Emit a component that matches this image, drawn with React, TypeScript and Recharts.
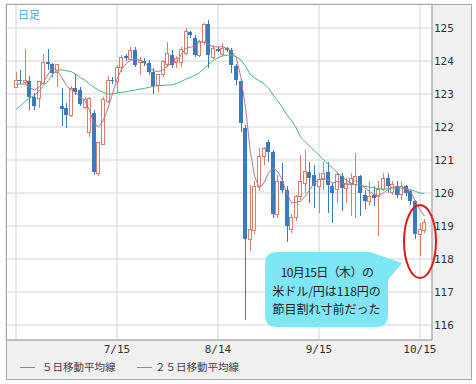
import React from 'react';
import { ComposedChart, Bar, Line, XAxis, YAxis, CartesianGrid } from 'recharts';

// USD/JPY daily candles, 2015-06-15 .. 2015-10-16 (index = trading day)
const opens = [
  123.21, 123.42, 123.36, 123.4, 122.92, 122.85, 123.33, 123.97, 123.91, 123.64,
  122.64, 122.58, 122.36, 123.18, 123.12, 122.6, 121.82, 122.42, 120.6, 121.48,
  122.76, 123.42, 123.39, 123.79, 124.15, 124.06, 124.33, 123.94, 124.0, 123.94,
  123.67, 123.27, 123.58, 123.88, 124.18, 123.94, 123.94, 124.24, 124.88, 124.7,
  124.18, 124.55, 125.12, 124.12, 124.36, 124.2, 124.38, 124.33, 123.85, 123.39,
  121.96, 118.6, 118.85, 120.2, 121.1, 121.53, 121.25, 119.35, 120.35, 120.1,
  118.9, 119.25, 119.9, 120.3, 120.65, 120.55, 120.2, 120.4, 120.65, 120.2,
  120.1, 120.5, 120.15, 120.25, 120.25, 120.5, 119.95, 119.75, 119.95, 119.9,
  120.1, 120.45, 120.0, 120.2, 119.95, 120.2, 120.05, 119.75, 118.75, 118.85,
];
const highs = [
  123.67, 123.74, 124.36, 123.55, 123.04, 123.4, 124.2, 124.36, 123.94, 123.9,
  123.18, 122.73, 123.24, 123.6, 123.2, 122.9, 122.9, 122.5, 121.55, 122.9,
  123.55, 123.5, 123.88, 124.18, 124.2, 124.42, 124.42, 124.12, 124.1, 124.03,
  123.79, 123.6, 124.03, 124.58, 124.33, 124.15, 124.42, 125.0, 124.9, 124.8,
  124.64, 125.15, 125.24, 124.48, 124.42, 124.55, 124.42, 124.39, 123.9, 123.45,
  122.05, 120.25, 120.35, 121.35, 121.4, 121.6, 121.3, 120.55, 120.9, 120.2,
  119.35, 119.95, 121.15, 121.3, 120.95, 120.85, 120.6, 120.95, 120.95, 120.3,
  120.65, 120.6, 120.45, 120.6, 121.2, 120.55, 120.1, 120.35, 120.2, 120.35,
  120.6, 120.6, 120.35, 120.35, 120.35, 120.25, 120.1, 119.8, 119.1, 119.2,
];
const lows = [
  123.2, 123.3, 123.3, 122.52, 122.52, 122.58, 123.3, 123.73, 123.52, 123.21,
  122.03, 121.97, 122.3, 122.97, 122.64, 122.55, 121.7, 120.55, 120.5, 121.45,
  122.73, 123.3, 123.03, 123.67, 124.0, 124.03, 123.82, 123.58, 123.85, 123.58,
  123.0, 123.06, 123.52, 123.82, 123.79, 123.79, 123.82, 124.18, 124.7, 124.12,
  124.12, 124.48, 123.79, 124.06, 124.27, 124.15, 124.27, 123.64, 123.27, 121.86,
  116.15, 118.25, 118.75, 120.05, 120.85, 120.95, 119.25, 119.25, 120.0, 118.5,
  118.8, 119.15, 119.8, 120.0, 119.7, 119.55, 119.4, 120.1, 119.4, 119.1,
  119.7, 119.45, 119.7, 119.3, 119.25, 119.3, 119.5, 119.6, 119.6, 118.7,
  120.05, 120.0, 119.95, 119.85, 119.8, 119.9, 119.65, 118.6, 118.1, 118.8,
];
const closes = [
  123.42, 123.38, 123.42, 122.92, 122.64, 123.37, 123.94, 123.9, 123.64, 123.88,
  122.55, 122.36, 123.18, 123.06, 122.7, 122.82, 122.85, 120.64, 121.52, 122.82,
  123.42, 123.38, 123.79, 124.12, 124.1, 124.33, 123.88, 124.03, 123.94, 123.67,
  123.24, 123.58, 123.97, 124.24, 123.88, 124.09, 124.36, 124.88, 124.8, 124.18,
  124.58, 125.12, 124.18, 124.39, 124.3, 124.39, 124.33, 123.88, 123.42, 122.11,
  118.6, 118.9, 120.2, 121.1, 121.35, 121.25, 119.35, 120.35, 120.1, 119.0,
  119.25, 119.9, 120.35, 120.65, 120.45, 120.2, 120.4, 120.6, 120.25, 120.0,
  120.55, 120.15, 120.3, 120.45, 120.5, 120.0, 119.75, 119.9, 119.85, 120.1,
  120.45, 120.2, 120.25, 119.95, 120.2, 120.0, 119.75, 118.75, 118.9, 119.1,
];
const ma5 = [
  123.3, 123.3, 123.3, 123.2, 123.12, 123.2, 123.35, 123.6, 123.8, 123.7,
  123.5, 123.25, 123.12, 123.05, 122.9, 122.8, 122.5, 122.1, 122.0, 122.2,
  122.55, 123.0, 123.45, 123.75, 123.92, 124.03, 124.05, 124.03, 123.95, 123.8,
  123.7, 123.68, 123.73, 123.85, 123.95, 124.0, 124.2, 124.38, 124.42, 124.45,
  124.56, 124.58, 124.5, 124.43, 124.43, 124.43, 124.38, 124.3, 124.1, 123.5,
  122.6, 121.3, 120.5, 120.15, 120.3, 120.6, 120.75, 120.65, 120.4, 120.0,
  119.7, 119.72, 119.75, 119.9, 120.1, 120.3, 120.4, 120.45, 120.38, 120.3,
  120.35, 120.3, 120.25, 120.28, 120.38, 120.28, 120.15, 120.05, 119.95, 119.92,
  120.0, 120.1, 120.17, 120.18, 120.2, 120.12, 120.03, 119.75, 119.5, 119.3,
];
const ma25 = [
  122.53, 122.65, 122.78, 122.88, 122.95, 123.08, 123.25, 123.4, 123.6, 123.72,
  123.73, 123.7, 123.68, 123.6, 123.5, 123.42, 123.3, 123.2, 123.12, 123.05,
  123.0, 123.0, 123.03, 123.05, 123.07, 123.1, 123.12, 123.15, 123.17, 123.2,
  123.24, 123.25, 123.26, 123.27, 123.28, 123.32, 123.38, 123.45, 123.5, 123.57,
  123.65, 123.78, 123.9, 124.02, 124.1, 124.15, 124.18, 124.17, 124.13, 124.03,
  123.85, 123.6, 123.48, 123.4, 123.32, 123.18, 122.97, 122.8, 122.6, 122.37,
  122.2, 121.98, 121.7, 121.55, 121.42, 121.28, 121.15, 121.0, 120.88, 120.75,
  120.62, 120.5, 120.38, 120.3, 120.25, 120.22, 120.2, 120.18, 120.15, 120.13,
  120.12, 120.13, 120.15, 120.15, 120.15, 120.12, 120.1, 120.05, 120.0, 119.98,
];

const xTicks = [0, 22, 44, 66, 88];
const xTickLabels = ['', '7/15', '8/14', '9/15', '10/15'];
const yTicks = [116, 117, 118, 119, 120, 121, 122, 123, 124, 125];

const UP = '#e07b68';
const DOWN = '#3b7bbd';
const MA5_COLOR = '#c07088';
const MA25_COLOR = '#45b585';

const rows = opens.map((o, i) => ({
  i,
  open: o,
  high: highs[i],
  low: lows[i],
  close: closes[i],
  range: [lows[i], highs[i]],
  ma5: ma5[i],
  ma25: ma25[i],
}));

function Candle(props: any) {
  const { x, y, width, height, payload } = props;
  if (x == null || !payload) return null;
  const { open, close, high, low } = payload;
  const k = high === low ? 0 : height / (high - low);
  const py = (v: number) => y + (high - v) * k;
  const left = Math.round(x + width / 2 - 2);
  const cx = left + 2;
  const up = close >= open;
  const top = py(Math.max(open, close));
  const bot = py(Math.min(open, close));
  const color = up ? UP : DOWN;
  return (
    <g shapeRendering="crispEdges">
      <line x1={cx} x2={cx} y1={y} y2={y + height} stroke={color} strokeWidth={1} />
      {up ? (
        <rect x={left + 0.5} y={top} width={3} height={Math.max(bot - top, 1)} fill="#fff" stroke={color} strokeWidth={1} />
      ) : (
        <rect x={left} y={top} width={4} height={Math.max(bot - top, 1)} fill={color} />
      )}
    </g>
  );
}

const tickFont = { fontFamily: '"DejaVu Sans Mono", monospace', fontSize: 11, fill: '#333' };
const jpFont = '"Noto Sans CJK JP", sans-serif';

export default function App() {
  return (
    <div style={{ position: 'absolute', left: 0, top: 0, width: 476, height: 384, background: '#fff' }}>
      <div style={{ position: 'absolute', left: 6, top: 4, width: 466, height: 376, background: '#f0f0f0' }} />
      <div style={{ position: 'absolute', left: 0, top: 0 }}>
        <ComposedChart width={476} height={384} data={rows} margin={{ top: 4, right: 4, bottom: 26, left: 6 }}>
          <CartesianGrid stroke="#d4d4d4" fill="#fff" />
          <XAxis
            dataKey="i"
            type="number"
            domain={[-2.18, 90.63]}
            allowDataOverflow
            ticks={xTicks}
            tickFormatter={(v: number) => xTickLabels[xTicks.indexOf(v)] ?? ''}
            height={18}
            tickSize={0}
            tickMargin={5}
            tick={tickFont}
            axisLine={{ stroke: '#999' }}
            interval={0}
          />
          <YAxis
            orientation="right"
            type="number"
            domain={[115.545, 125.727]}
            allowDataOverflow
            ticks={yTicks}
            width={40}
            tickSize={0}
            tickMargin={2}
            tick={tickFont}
            axisLine={{ stroke: '#999' }}
            interval={0}
          />
          <Bar dataKey="range" barSize={4} shape={<Candle />} isAnimationActive={false} />
          <Line dataKey="ma25" stroke={MA25_COLOR} strokeWidth={1} dot={false} isAnimationActive={false} />
          <Line dataKey="ma5" stroke={MA5_COLOR} strokeWidth={1} dot={false} isAnimationActive={false} />
        </ComposedChart>
      </div>

      <div style={{ position: 'absolute', left: 18, top: 6, fontFamily: jpFont, fontSize: 11, color: '#38aee0' }}>日足</div>

      <div style={{ position: 'absolute', left: 20, top: 367, width: 15, height: 1, background: MA5_COLOR }} />
      <div style={{ position: 'absolute', left: 42, top: 359, fontFamily: jpFont, fontSize: 10.5, lineHeight: '16px', color: '#444' }}>５日移動平均線</div>
      <div style={{ position: 'absolute', left: 137, top: 367, width: 15, height: 1, background: MA25_COLOR }} />
      <div style={{ position: 'absolute', left: 155, top: 359, fontFamily: jpFont, fontSize: 10.5, lineHeight: '16px', color: '#444' }}>２５日移動平均線</div>

      <svg width={476} height={384} style={{ position: 'absolute', left: 0, top: 0, pointerEvents: 'none' }}>
        <path
          d="M 277 252 H 370 L 402 263 L 388 280 V 315 Q 388 327 376 327 H 277 Q 265 327 265 315 V 264 Q 265 252 277 252 Z"
          fill="#7fe6f6"
        />
        <g fontFamily={jpFont} fontSize={12} fill="#222" textAnchor="middle" dominantBaseline="central">
          <text x={327} y={271} letterSpacing={-0.6}>10月15日（木）の</text>
          <text x={326.5} y={290}>米ドル/円は118円の</text>
          <text x={326.5} y={308}>節目割れ寸前だった</text>
        </g>
        <ellipse cx={420} cy={241.5} rx={16} ry={36.5} fill="none" stroke="#e01a1a" strokeWidth={2} />
      </svg>

      <div style={{ position: 'absolute', left: 6, top: 4, width: 466, height: 376, border: '1px solid #a8a8a8', boxSizing: 'border-box', pointerEvents: 'none' }} />
    </div>
  );
}
